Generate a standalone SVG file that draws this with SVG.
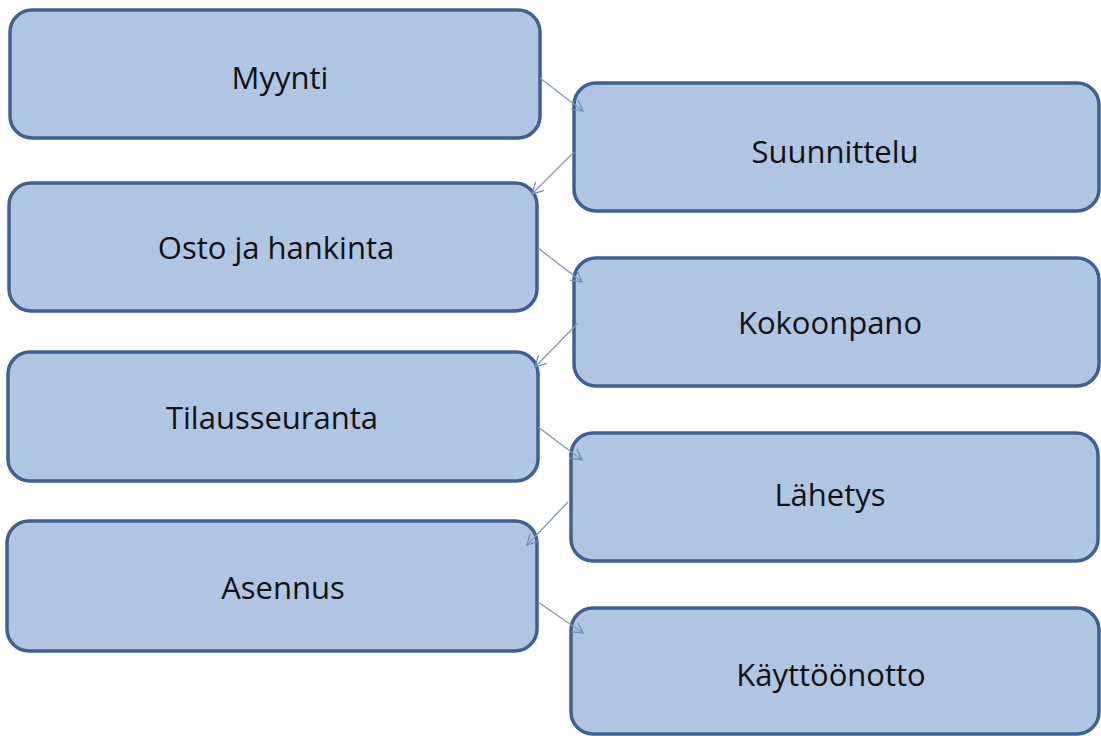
<svg xmlns="http://www.w3.org/2000/svg" width="1101" height="736" viewBox="0 0 1101 736">
<style>
.box{fill:#b0c5e1;stroke:#3f6090;stroke-width:3.5}
.lbl{font-family:"Open Sans","Liberation Sans",sans-serif;font-size:31px;fill:#111;text-anchor:middle}
.con{stroke:#7f98c0;stroke-width:1.3;fill:none;marker-end:url(#ah)}
</style>
<defs>
<marker id="ah" viewBox="0 0 12 12" refX="11" refY="6" markerWidth="12" markerHeight="12" markerUnits="userSpaceOnUse" orient="auto">
<path d="M0,0 L11,6 L0,12" fill="none" stroke="#6f8fbf" stroke-width="1.3"/>
</marker>
</defs>
<rect width="1101" height="736" fill="#ffffff"/>
<g id="n1"><rect class="box" x="10" y="10" width="530" height="128" rx="22"/><text class="lbl" x="280" y="89">Myynti</text></g>
<g id="n2"><rect class="box" x="574" y="83" width="525" height="128" rx="22"/><text class="lbl" x="835" y="163">Suunnittelu</text></g>
<g id="n3"><rect class="box" x="9" y="183" width="528" height="128" rx="22"/><text class="lbl" x="276" y="259">Osto ja hankinta</text></g>
<g id="n4"><rect class="box" x="574" y="258" width="525" height="128" rx="22"/><text class="lbl" x="830" y="334">Kokoonpano</text></g>
<g id="n5"><rect class="box" x="8" y="352" width="530" height="129" rx="22"/><text class="lbl" x="272" y="429">Tilausseuranta</text></g>
<g id="n6"><rect class="box" x="571" y="433" width="527" height="128" rx="22"/><text class="lbl" x="830" y="506">Lähetys</text></g>
<g id="n7"><rect class="box" x="7" y="521" width="530" height="130" rx="22"/><text class="lbl" x="283" y="599">Asennus</text></g>
<g id="n8"><rect class="box" x="571" y="608" width="528" height="126" rx="22"/><text class="lbl" x="831" y="686">Käyttöönotto</text></g>
<g id="connectors">
<line class="con" x1="540" y1="78" x2="583" y2="111"/>
<line class="con" x1="574" y1="152" x2="532" y2="194"/>
<line class="con" x1="538" y1="248" x2="582" y2="282"/>
<line class="con" x1="578" y1="323" x2="535" y2="367"/>
<line class="con" x1="538" y1="427" x2="582" y2="460"/>
<line class="con" x1="568" y1="502" x2="527" y2="545"/>
<line class="con" x1="538" y1="602" x2="583" y2="633"/>
</g>
</svg>
